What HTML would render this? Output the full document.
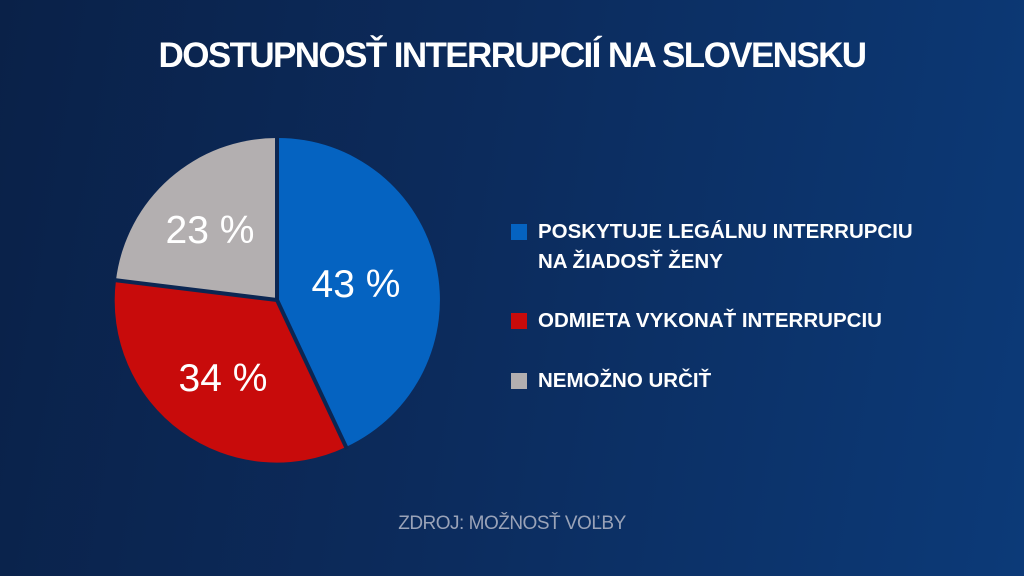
<!DOCTYPE html>
<html><head><meta charset="utf-8"><style>
html,body{margin:0;padding:0}
body{width:1024px;height:576px;overflow:hidden;position:relative;
background:linear-gradient(100deg,#0a2148 0%,#0c2b5c 45%,#0c3a78 100%);
font-family:"Liberation Sans",sans-serif;color:#fff}
.t{position:absolute;left:0;width:1024px;top:36px;text-align:center;font-weight:bold;font-size:35px;letter-spacing:-1.6px}
.lg{position:absolute;left:511px;font-weight:bold;font-size:20.5px;line-height:30px}
.sq{position:absolute;left:0;top:7px;width:16px;height:16px}
.lg span{display:block;padding-left:27px}
.src{position:absolute;left:0;width:1024px;top:513px;text-align:center;font-size:19px;color:#9aa3b8;letter-spacing:-0.5px}
</style></head><body>
<div class="t">DOSTUPNOSŤ INTERRUPCIÍ NA SLOVENSKU</div>
<svg width="1024" height="576" style="position:absolute;left:0;top:0">
<path d="M277,300 L277,138 A162,162 0 0 1 346,447 Z" fill="#0563c1"/>
<path d="M277,300 L346,447 A162,162 0 0 1 116,280 Z" fill="#c80b0b"/>
<path d="M277,300 L116,280 A162,162 0 0 1 277,138 Z" fill="#b3afb0"/>
<g stroke="#0b2652" stroke-width="4">
<line x1="277" y1="300" x2="277" y2="136"/>
<line x1="277" y1="300" x2="347" y2="449"/>
<line x1="277" y1="300" x2="114" y2="280"/>
</g>
<g fill="#fff" font-family="Liberation Sans,sans-serif" font-size="39" text-anchor="middle">
<text x="356" y="297">43 %</text>
<text x="223" y="391">34 %</text>
<text x="210" y="243">23 %</text>
</g>
</svg>
<div class="lg" style="top:217px"><div class="sq" style="background:#0563c1"></div><span>POSKYTUJE LEGÁLNU INTERRUPCIU<br>NA ŽIADOSŤ ŽENY</span></div>
<div class="lg" style="top:306px"><div class="sq" style="background:#c80b0b"></div><span>ODMIETA VYKONAŤ INTERRUPCIU</span></div>
<div class="lg" style="top:366px"><div class="sq" style="background:#b3afb0"></div><span>NEMOŽNO URČIŤ</span></div>
<div class="src">ZDROJ: MOŽNOSŤ VOĽBY</div>
</body></html>
